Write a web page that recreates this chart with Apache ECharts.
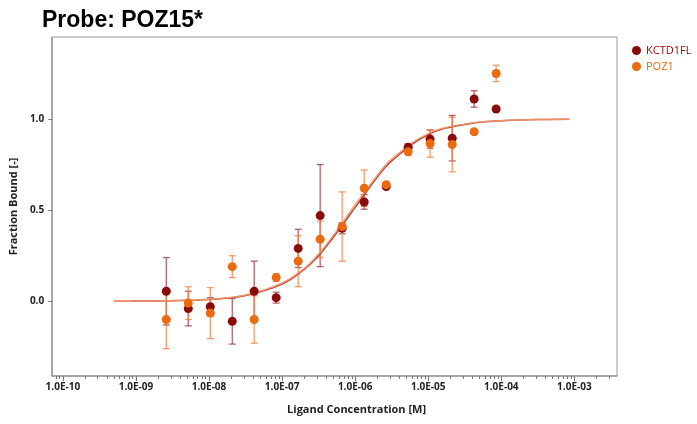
<!DOCTYPE html>
<html>
<head>
<meta charset="utf-8">
<script src="https://cdn.jsdelivr.net/npm/echarts@6/dist/echarts.min.js"></script>
<style>html,body{margin:0;padding:0;background:#fff;}#c{width:697px;height:424px;}</style>
</head>
<body>
<div id="c"></div>
<script>
// Ligand concentrations [M] (2-fold dilution series)
const concentrations = [2.6e-9, 5.2e-9, 1.04e-8, 2.08e-8, 4.15e-8, 8.3e-8, 1.66e-7, 3.32e-7,
  6.64e-7, 1.33e-6, 2.66e-6, 5.31e-6, 1.06e-5, 2.13e-5, 4.25e-5, 8.5e-5];
// KCTD1FL fraction bound and error
const kctdValues = [0.055, -0.04, -0.03, -0.11, 0.055, 0.02, 0.29, 0.47, 0.40, 0.545, 0.63, 0.845, 0.89, 0.895, 1.11, 1.055];
const kctdErrors = [0.185, 0.095, 0.05, 0.125, 0.165, 0.03, 0.105, 0.28, 0.03, 0.04, 0.01, 0.02, 0.05, 0.125, 0.045, 0.0];
// POZ1 fraction bound and error
const pozValues = [-0.10, -0.01, -0.065, 0.19, -0.10, 0.13, 0.22, 0.34, 0.41, 0.62, 0.64, 0.82, 0.865, 0.86, 0.93, 1.25];
const pozErrors = [0.16, 0.09, 0.14, 0.06, 0.13, 0.02, 0.14, 0.10, 0.19, 0.10, 0.01, 0.02, 0.075, 0.15, 0.01, 0.045];
// Fit curves
const fitConc = [5.0e-10, 1e-9, 3.16e-9, 1e-8, 3.16e-8, 1e-7, 2e-7, 3.16e-7, 5e-7, 1e-6, 2e-6, 3.16e-6, 1e-5, 3.16e-5, 1e-4, 3.16e-4, 8.5e-4];
const kctdFit = [0.0, 0.001, 0.003, 0.010, 0.032, 0.095, 0.175, 0.25, 0.35, 0.515, 0.68, 0.77, 0.915, 0.97, 0.99, 0.997, 0.999];
const pozFit  = [0.0, 0.001, 0.004, 0.011, 0.034, 0.10, 0.18, 0.26, 0.36, 0.53, 0.69, 0.78, 0.92, 0.972, 0.991, 0.997, 0.999];
// Axis ticks
const xMin = 7.14e-11, xMax = 3.83e-3;
const yTickValues = [0, 0.5, 1.0];
const minorTicks = [];
for (let e = -11; e <= -3; e++) for (let k = 2; k <= 9; k++) minorTicks.push(k * Math.pow(10, e));

const COL_K = '#8b0a0a', COL_P = '#ec6a10';
const COL_KE = 'rgba(150,35,45,0.7)', COL_PE = 'rgba(242,130,70,0.8)';
const COL_KF = '#b8452c', COL_PF = 'rgba(243,150,110,0.9)';
const labelFont = {fontFamily: 'Open Sans', fontWeight: 'bold', fontSize: 10, color: '#222'};

function pairs(xs, ys) { return xs.map((x, i) => [x, ys[i]]); }
function errData(xs, ys, es) { return xs.map((x, i) => [x, ys[i] - es[i], ys[i] + es[i]]); }
function errRender(color) {
  return function (params, api) {
    const x = api.value(0), lo = api.value(1), hi = api.value(2);
    const a = api.coord([x, hi]), b = api.coord([x, lo]);
    const w = 3.5, st = {stroke: color, lineWidth: 1.3};
    return {type: 'group', children: [
      {type: 'line', shape: {x1: a[0], y1: a[1], x2: b[0], y2: b[1]}, style: st},
      {type: 'line', shape: {x1: a[0] - w, y1: a[1], x2: a[0] + w, y2: a[1]}, style: st},
      {type: 'line', shape: {x1: b[0] - w, y1: b[1], x2: b[0] + w, y2: b[1]}, style: st}
    ]};
  };
}

const chart = echarts.init(document.getElementById('c'), null, {renderer: 'canvas'});
chart.setOption({
  animation: false,
  backgroundColor: '#fff',
  title: {text: 'Probe: POZ15*', left: 37, top: 4,
    textStyle: {fontFamily: 'Liberation Sans', fontWeight: 'bold', fontSize: 23, color: '#000'}},
  legend: {
    orient: 'vertical', left: 627, top: 40, itemWidth: 9, itemHeight: 9, itemGap: 5, icon: 'circle',
    textStyle: {fontFamily: 'Open Sans', fontSize: 11},
    data: [{name: 'KCTD1FL', textStyle: {color: COL_K}}, {name: 'POZ1', textStyle: {color: COL_P}}]
  },
  grid: {left: 47, top: 37, right: 80, bottom: 48, show: true, borderColor: '#9a9a9a', borderWidth: 1},
  xAxis: [{
    type: 'log', logBase: 10, min: xMin, max: xMax,
    name: 'Ligand Concentration [M]', nameLocation: 'middle', nameGap: 28,
    nameTextStyle: {fontFamily: 'Open Sans', fontWeight: 'bold', fontSize: 11, color: '#222', padding: [0, 0, 0, 44]},
    axisLine: {show: true, onZero: false, lineStyle: {color: '#9a9a9a', width: 1.5}},
    axisTick: {show: true, length: 5, lineStyle: {color: '#777'}},
    axisLabel: Object.assign({margin: 6, showMinLabel: false, showMaxLabel: false,
      formatter: v => { const e = Math.round(Math.log10(v)); const a = Math.abs(e); return '1.0E' + (e < 0 ? '-' : '+') + (a < 10 ? '0' + a : a); }}, labelFont),
    splitLine: {show: false}
  }, {
    type: 'log', logBase: 10, min: xMin, max: xMax, position: 'bottom',
    axisLine: {show: false, onZero: false},
    axisTick: {show: true, length: 3, lineStyle: {color: '#777'}, customValues: minorTicks},
    axisLabel: {show: false},
    splitLine: {show: false}
  }],
  yAxis: {
    type: 'value', min: -0.41, max: 1.45,
    name: 'Fraction Bound [-]', nameLocation: 'middle', nameGap: 23,
    nameTextStyle: {fontFamily: 'Open Sans', fontWeight: 'bold', fontSize: 11, color: '#222'},
    axisLine: {show: true, onZero: false, lineStyle: {color: '#9a9a9a', width: 1.5}},
    axisTick: {show: true, length: 4, lineStyle: {color: '#777'}, customValues: yTickValues},
    axisLabel: Object.assign({margin: 8, customValues: yTickValues, formatter: v => v.toFixed(1)}, labelFont),
    splitLine: {show: false}
  },
  series: [
    {name: 'KCTD1FL err', type: 'custom', renderItem: errRender(COL_KE), data: errData(concentrations, kctdValues, kctdErrors), z: 2, silent: true},
    {name: 'POZ1 err', type: 'custom', renderItem: errRender(COL_PE), data: errData(concentrations, pozValues, pozErrors), z: 2, silent: true},
    {name: 'KCTD1FL fit', type: 'line', data: pairs(fitConc, kctdFit), smooth: 0.4, showSymbol: false, symbol: 'none', lineStyle: {color: COL_KF, width: 1.5}, z: 3},
    {name: 'POZ1 fit', type: 'line', data: pairs(fitConc, pozFit), smooth: 0.4, showSymbol: false, symbol: 'none', lineStyle: {color: COL_PF, width: 1.5}, z: 3},
    {name: 'KCTD1FL', type: 'scatter', data: pairs(concentrations, kctdValues), symbolSize: 9, itemStyle: {color: COL_K, opacity: 1}, z: 4},
    {name: 'POZ1', type: 'scatter', data: pairs(concentrations, pozValues), symbolSize: 9, itemStyle: {color: COL_P, opacity: 1}, z: 5}
  ]
});
</script>
</body>
</html>
